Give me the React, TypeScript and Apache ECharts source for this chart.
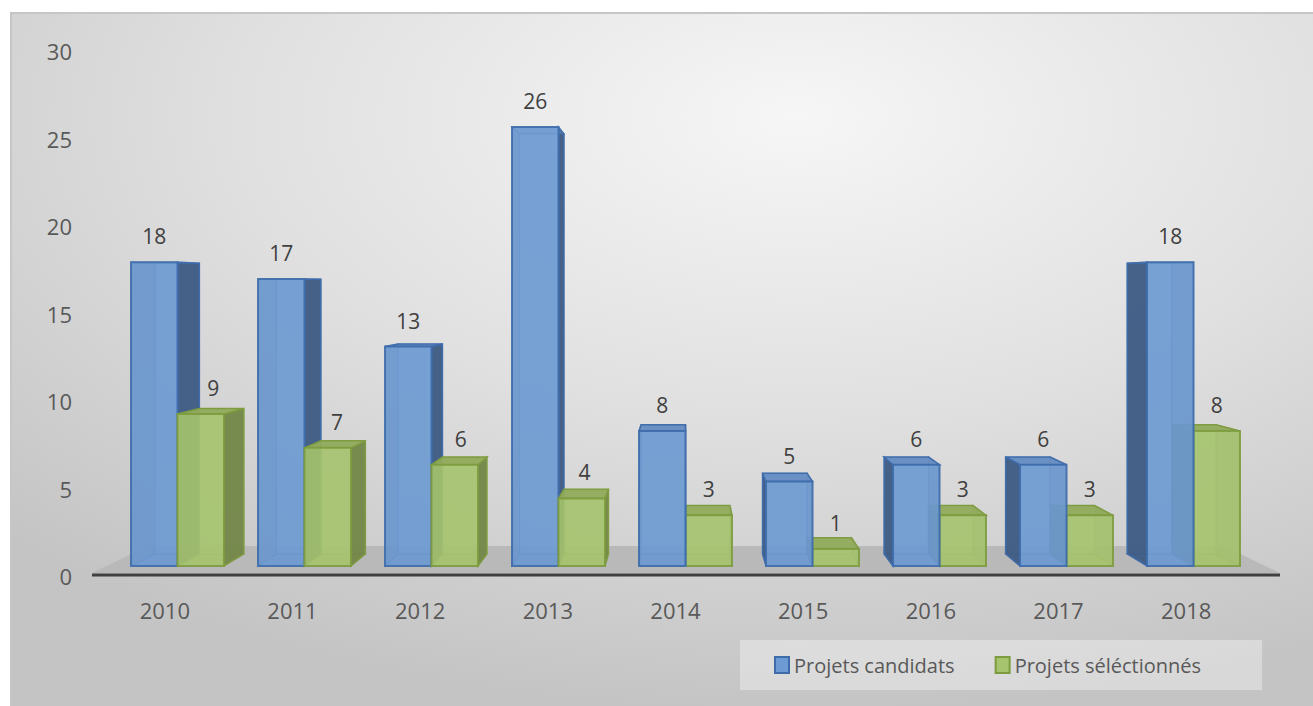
import { useEffect, useRef } from "react";
import * as echarts from "echarts";

const years = ["2010", "2011", "2012", "2013", "2014", "2015", "2016", "2017", "2018"];
const candidats = [18, 17, 13, 26, 8, 5, 6, 6, 18];
const selectionnes = [9, 7, 6, 4, 3, 1, 3, 3, 8];
const seriesNames = ["Projets candidats", "Projets séléctionnés"];
const yMin = 0;
const yMax = 30;
const yStep = 5;

const DEPTH_K = 0.957;
const FLOOR_K = 0.906;
const VP_VALUE = 16.6;
const BAR_RATIO = 0.366;
const FONT = "'Open Sans', 'Noto Sans', sans-serif";

const COLORS: any = {
  blue: { front: "#6d9ad2", edge: "#3d6cab", side: "#3f5c84", top: "#678dc2" },
  green: { front: "#a6c46e", edge: "#7d9b3f", side: "#74874a", top: "#91ab5c" },
};

function makeRenderItem(kind: "blue" | "green") {
  return (params: any, api: any) => {
    const idx = api.value(0);
    const val = api.value(1);
    const cs = params.coordSys;
    const vx = cs.x + cs.width / 2;
    const vy = api.coord([0, VP_VALUE])[1];
    const base = api.coord([idx, 0]);
    const top = api.coord([idx, val]);
    const band = api.size([1, 0])[0];
    const w = band * BAR_RATIO;
    const cx = base[0];
    const x0 = kind === "blue" ? cx - w : cx;
    const x1 = kind === "blue" ? cx : cx + w;
    const y0 = base[1];
    const y1 = top[1];
    const back = (x: number, y: number) => [vx + (x - vx) * DEPTH_K, vy + (y - vy) * DEPTH_K];
    const F = { lt: [x0, y1], rt: [x1, y1], rb: [x1, y0], lb: [x0, y0] };
    const B = { lt: back(x0, y1), rt: back(x1, y1), rb: back(x1, y0), lb: back(x0, y0) };
    const c = COLORS[kind];
    const leftGroup = cx < vx - 1;
    const zb = (kind === "blue") === leftGroup ? 10 : 30;
    const rightVisible = x1 <= vx;
    const leftVisible = x0 >= vx;
    const leftFace = [F.lt, B.lt, B.lb, F.lb];
    const rightFace = [F.rt, B.rt, B.rb, F.rb];
    const children: any[] = [];
    children.push({
      type: "polygon",
      shape: { points: [B.lt, B.rt, B.rb, B.lb] },
      style: { fill: c.front, stroke: c.edge, lineWidth: 1.2, opacity: 0.35 },
      z2: zb,
    });
    children.push({
      type: "polygon",
      shape: { points: [F.lb, F.rb, B.rb, B.lb] },
      style: { fill: c.top, stroke: c.edge, lineWidth: 1.2, opacity: 0.45 },
      z2: zb + 1,
    });
    if (!rightVisible) {
      children.push({
        type: "polygon",
        shape: { points: rightFace },
        style: { fill: c.side, stroke: c.edge, lineWidth: 1.2, opacity: 0.4 },
        z2: zb + 1,
      });
    }
    if (!leftVisible) {
      children.push({
        type: "polygon",
        shape: { points: leftFace },
        style: { fill: c.side, stroke: c.edge, lineWidth: 1.2, opacity: 0.4 },
        z2: zb + 1,
      });
    }
    if (rightVisible) {
      children.push({
        type: "polygon",
        shape: { points: rightFace },
        style: { fill: c.side, stroke: c.edge, lineWidth: 1.5, opacity: 0.95 },
        z2: zb + 2,
      });
    }
    if (leftVisible) {
      children.push({
        type: "polygon",
        shape: { points: leftFace },
        style: { fill: c.side, stroke: c.edge, lineWidth: 1.5, opacity: 0.95 },
        z2: zb + 2,
      });
    }
    children.push({
      type: "polygon",
      shape: { points: [F.lt, F.rt, B.rt, B.lt] },
      style: { fill: c.top, stroke: c.edge, lineWidth: 1.5, opacity: y1 > vy ? 0.95 : 0.5 },
      z2: zb + 3,
    });
    children.push({
      type: "polygon",
      shape: { points: [F.lt, F.rt, F.rb, F.lb] },
      style: { fill: c.front, stroke: c.edge, lineWidth: 2, opacity: 0.88 },
      z2: zb + 4,
    });
    const dx = Math.abs(vx - (x0 + x1) / 2) * (1 - DEPTH_K);
    const lx = (x0 + x1) / 2 + (kind === "green" && leftGroup ? 0.6 * dx : 0);
    children.push({
      type: "text",
      x: lx,
      y: y1 - 26,
      style: {
        text: String(val),
        align: "center",
        verticalAlign: "middle",
        fontSize: 21,
        fontFamily: FONT,
        fill: "#404040",
      },
      z2: 100,
    });
    return { type: "group", children };
  };
}

function floorRenderItem(params: any, api: any) {
  const cs = params.coordSys;
  const vx = cs.x + cs.width / 2;
  const vy = api.coord([0, VP_VALUE])[1];
  const y0 = api.coord([0, 0])[1];
  const fy = y0 + 7;
  const fl = cs.x - 22;
  const fr = cs.x + cs.width + 23;
  const back = (x: number, y: number) => [vx + (x - vx) * FLOOR_K, vy + (y - vy) * FLOOR_K];
  return {
    type: "group",
    children: [
      {
        type: "polygon",
        shape: { points: [[fl, fy], [fr, fy], back(fr, fy), back(fl, fy)] },
        style: { fill: "#b9b9b9" },
        z2: 0,
      },
      {
        type: "line",
        shape: { x1: fl, y1: fy + 2, x2: fr, y2: fy + 2 },
        style: { stroke: "#3f3f3f", lineWidth: 3 },
        z2: 1,
      },
    ],
  };
}

export default function App() {
  const ref = useRef<HTMLDivElement>(null);
  useEffect(() => {
    if (!ref.current) return;
    const chart = echarts.init(ref.current, undefined, { renderer: "svg" });
    const axisLabel = { fontSize: 22, fontFamily: FONT, color: "#595959" };
    chart.setOption({
      animation: false,
      backgroundColor: "#ffffff",
      graphic: [
        {
          type: "rect",
          silent: true,
          z: -10,
          shape: { x: 11, y: 13, width: 1310, height: 700 },
          style: {
            fill: {
              type: "radial",
              x: 0.6,
              y: 0.15,
              r: 0.85,
              colorStops: [
                { offset: 0, color: "#f6f6f6" },
                { offset: 0.5, color: "#e0e0e0" },
                { offset: 1, color: "#c4c4c4" },
              ],
            },
            stroke: "#c6c6c6",
            lineWidth: 2,
          },
        },
      ],
      legend: {
        data: [
          { name: seriesNames[0], itemStyle: { color: COLORS.blue.front, borderColor: COLORS.blue.edge, borderWidth: 2 } },
          { name: seriesNames[1], itemStyle: { color: COLORS.green.front, borderColor: COLORS.green.edge, borderWidth: 2 } },
        ],
        left: 740,
        top: 640,
        icon: "rect",
        itemWidth: 14,
        itemHeight: 16,
        itemGap: 40,
        padding: [15, 61, 15, 34],
        backgroundColor: "rgba(255,255,255,0.35)",
        textStyle: { fontSize: 20, fontFamily: FONT, color: "#595959" },
        selectedMode: false,
      },
      grid: [
        { left: 101, right: 63, top: 51, bottom: 130 },
        { left: 114, right: 56, top: 59.6, bottom: 140 },
      ],
      xAxis: [
        {
          type: "category",
          gridIndex: 0,
          data: years,
          axisLine: { show: false },
          axisTick: { show: false },
          axisLabel: { ...axisLabel, margin: 23 },
        },
        {
          type: "category",
          gridIndex: 1,
          data: years,
          show: false,
        },
      ],
      yAxis: [
        {
          type: "value",
          gridIndex: 0,
          min: yMin,
          max: yMax,
          interval: yStep,
          axisLine: { show: false },
          axisTick: { show: false },
          splitLine: { show: false },
          axisLabel: { ...axisLabel, margin: 29 },
        },
        {
          type: "value",
          gridIndex: 1,
          min: yMin,
          max: yMax,
          interval: yStep,
          show: false,
          splitLine: { show: false },
        },
      ],
      series: [
        {
          type: "custom",
          name: "floor",
          xAxisIndex: 1,
          yAxisIndex: 1,
          silent: true,
          data: [[0, 0]],
          renderItem: floorRenderItem,
        },
        {
          type: "custom",
          name: seriesNames[0],
          xAxisIndex: 1,
          yAxisIndex: 1,
          itemStyle: { color: COLORS.blue.front, borderColor: COLORS.blue.edge, borderWidth: 2 },
          data: candidats.map((v, i) => [i, v]),
          encode: { x: 0, y: 1 },
          renderItem: makeRenderItem("blue"),
        },
        {
          type: "custom",
          name: seriesNames[1],
          xAxisIndex: 1,
          yAxisIndex: 1,
          itemStyle: { color: COLORS.green.front, borderColor: COLORS.green.edge, borderWidth: 2 },
          data: selectionnes.map((v, i) => [i, v]),
          encode: { x: 0, y: 1 },
          renderItem: makeRenderItem("green"),
        },
      ],
    });
    return () => chart.dispose();
  }, []);
  return (
    <div
      ref={ref}
      style={{ position: "fixed", left: 0, top: 0, width: 1313, height: 706 }}
    />
  );
}
